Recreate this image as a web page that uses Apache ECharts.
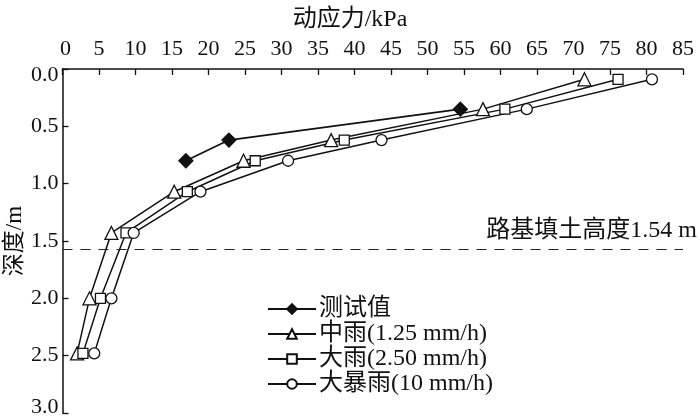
<!DOCTYPE html>
<html><head><meta charset="utf-8">
<script src="https://cdn.jsdelivr.net/npm/echarts@6/dist/echarts.min.js"></script>
<style>html,body{margin:0;padding:0;background:#fff}#c{width:700px;height:417px}</style>
</head><body><div id="c"></div>
<script>
const FONT = "'Liberation Serif','Noto Sans CJK SC',serif";
const seriesNames = ['测试值', '中雨(1.25 mm/h)', '大雨(2.50 mm/h)', '大暴雨(10 mm/h)'];
// [stress kPa, depth m]
const measured = [[16.9, 0.80], [22.8, 0.62], [54.5, 0.35]];
const moderate = [[71.5, 0.09], [57.6, 0.35], [36.8, 0.62], [24.8, 0.80], [15.3, 1.07], [6.7, 1.43], [3.7, 2.00], [2.0, 2.48]];
const heavy = [[76.1, 0.09], [60.6, 0.35], [38.6, 0.62], [26.4, 0.80], [17.1, 1.07], [8.7, 1.43], [5.2, 2.00], [2.8, 2.48]];
const storm = [[80.75, 0.09], [63.6, 0.35], [43.7, 0.62], [30.9, 0.80], [18.9, 1.07], [9.75, 1.43], [6.7, 2.00], [4.35, 2.48]];
const fillHeight = 1.57;
const fillLabel = '路基填土高度1.54 m';
const xTitle = '动应力/kPa';
const yTitle = '深度/m';

const chart = echarts.init(document.getElementById('c'), null, {renderer: 'canvas'});
function mk(name, data, symbol, size, filled, extra) {
  return Object.assign({
    name, type: 'line', data, symbol, symbolSize: size,
    lineStyle: {color: '#111', width: 1.5},
    itemStyle: {color: filled ? '#111' : '#fff', borderColor: '#111', borderWidth: 1.3},
    emphasis: {disabled: true}, z: 3
  }, extra || {});
}
const lblBase = {fontFamily: FONT, fontSize: 22, color: '#111'};
chart.setOption({
  animation: false,
  title: {text: xTitle, left: 'center', top: 3, textStyle: {fontFamily: FONT, fontSize: 24, fontWeight: 'normal', color: '#111'}},
  grid: {left: 62.5, right: 17, top: 69, bottom: 4, containLabel: false, outerBoundsMode: 'none'},
  xAxis: {
    type: 'value', position: 'top', min: 0, max: 85, interval: 5,
    axisLine: {show: true, lineStyle: {color: '#111', width: 1.5}},
    axisTick: {show: true, inside: true, length: 6, lineStyle: {color: '#111', width: 1.3}},
    axisLabel: Object.assign({}, lblBase, {
      margin: 9,
      formatter: v => v === 0 ? '{z|0}' : String(v),
      rich: {z: Object.assign({}, lblBase, {padding: [0, 0, 0, 6]})}
    }),
    splitLine: {show: false}
  },
  yAxis: {
    type: 'value', inverse: true, min: 0, max: 3, interval: 0.5,
    name: yTitle, nameLocation: 'middle', nameGap: 36, nameRotate: 90, nameMoveOverlap: false,
    nameTextStyle: {fontFamily: FONT, fontSize: 23, color: '#111'},
    axisLine: {show: true, lineStyle: {color: '#111', width: 1.5}},
    axisTick: {show: true, inside: true, length: 6, lineStyle: {color: '#111', width: 1.3}},
    axisLabel: Object.assign({}, lblBase, {
      margin: 4,
      formatter: v => v === 0 ? '{t|0.0}' : (v === 3 ? '{b|3.0}' : v.toFixed(1)),
      rich: {
        t: Object.assign({}, lblBase, {padding: [12, 0, 0, 0]}),
        b: Object.assign({}, lblBase, {padding: [0, 0, 12, 0]})
      }
    }),
    splitLine: {show: false}
  },
  legend: {
    orient: 'vertical', left: 262, top: 292, itemWidth: 48, itemHeight: 12, itemGap: 1,
    textStyle: {fontFamily: FONT, fontSize: 24, color: '#111', padding: [0,0,0,-2]},
    data: seriesNames
  },
  series: [
    mk(seriesNames[0], measured, 'diamond', 14, true, {lineStyle: {color: '#111', width: 1.7}}),
    mk(seriesNames[1], moderate, 'triangle', 13, false, {
      markLine: {
        silent: true, symbol: 'none',
        lineStyle: {type: [10, 8], color: '#222', width: 1.2},
        label: {show: true, position: 'insideEndTop', formatter: fillLabel, fontFamily: FONT, fontSize: 24, color: '#111', offset: [19, -1]},
        data: [{yAxis: fillHeight}]
      }
    }),
    mk(seriesNames[2], heavy, 'rect', 10, false),
    mk(seriesNames[3], storm, 'circle', 11, false)
  ]
});
</script></body></html>
